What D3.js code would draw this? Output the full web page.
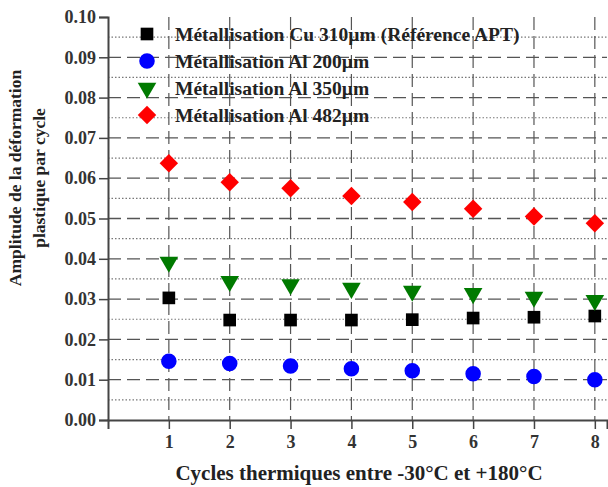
<!DOCTYPE html>
<html lang="fr">
<head>
<meta charset="utf-8">
<title>Amplitude de la déformation plastique par cycle</title>
<script src="https://cdn.jsdelivr.net/npm/d3@7"></script>
<style>
  body { margin: 0; background: #fff; }
  svg { font-family: "Liberation Serif", "DejaVu Serif", serif; }
</style>
</head>
<body>
<script>
// data
var cycles = [1, 2, 3, 4, 5, 6, 7, 8];
var cu310 = [0.0303, 0.0248, 0.0248, 0.0248, 0.0249, 0.0253, 0.0255, 0.0258];
var al200 = [0.0146, 0.0140, 0.0134, 0.0127, 0.0122, 0.0115, 0.0108, 0.0100];
var al350 = [0.0392, 0.0344, 0.0336, 0.0327, 0.0320, 0.0314, 0.0305, 0.0297];
var al482 = [0.0637, 0.0590, 0.0575, 0.0556, 0.0541, 0.0524, 0.0505, 0.0488];
var seriesNames = ["Métallisation Cu 310µm (Référence APT)", "Métallisation Al 200µm",
                   "Métallisation Al 350µm", "Métallisation Al 482µm"];
var yTicks = [0, 0.01, 0.02, 0.03, 0.04, 0.05, 0.06, 0.07, 0.08, 0.09, 0.10];

var series = [
  {name: seriesNames[0], values: cu310, color: "#000000", shape: "square"},
  {name: seriesNames[1], values: al200, color: "#0000ff", shape: "circle"},
  {name: seriesNames[2], values: al350, color: "#007a00", shape: "triangle"},
  {name: seriesNames[3], values: al482, color: "#ff0000", shape: "diamond"}
];

var w = 608, h = 487;
var mLeft = 108, mRight = 607, mTop = 17, mBottom = 420;

var svg = d3.select("body").append("svg")
    .attr("width", w).attr("height", h);

var x = d3.scaleLinear().domain([0, 8.2]).range([mLeft, mRight]);
var y = d3.scaleLinear().domain([0, 0.1]).range([mBottom, mTop]);

// grid: minor dotted at half steps, major dashed
var minor = d3.range(0.005, 0.1, 0.01);
svg.append("g").selectAll("line").data(minor).enter().append("line")
    .attr("x1", mLeft).attr("x2", mRight)
    .attr("y1", function(d) { return y(d); }).attr("y2", function(d) { return y(d); })
    .attr("stroke", "#777").attr("stroke-width", 1.2)
    .attr("stroke-dasharray", "1.5,2");

svg.append("g").selectAll("line").data(yTicks.slice(1, 10)).enter().append("line")
    .attr("x1", mLeft).attr("x2", mRight)
    .attr("y1", function(d) { return y(d); }).attr("y2", function(d) { return y(d); })
    .attr("stroke", "#555").attr("stroke-width", 1.3)
    .attr("stroke-dasharray", "13,6");

svg.append("g").selectAll("line").data(cycles).enter().append("line")
    .attr("x1", function(d) { return x(d); }).attr("x2", function(d) { return x(d); })
    .attr("y1", mTop).attr("y2", mBottom)
    .attr("stroke", "#555").attr("stroke-width", 1.2)
    .attr("stroke-dasharray", "13,6");

// axes
var yAxis = d3.axisLeft(y).tickValues(yTicks).tickFormat(d3.format(".2f")).tickSize(9).tickPadding(3);
var gy = svg.append("g").attr("transform", "translate(" + mLeft + ",0)").call(yAxis);
gy.select(".domain").attr("stroke", "#444").attr("stroke-width", 2);
gy.selectAll(".tick line").attr("stroke", "#444").attr("stroke-width", 1.5);
gy.selectAll("text").attr("font-size", 18).attr("font-weight", "bold")
    .attr("fill", "#333").attr("font-family", "Liberation Serif, serif");

var xAxis = d3.axisBottom(x).tickValues(cycles).tickFormat(d3.format("d")).tickSize(9).tickPadding(6);
var gx = svg.append("g").attr("transform", "translate(0," + mBottom + ")").call(xAxis);
gx.select(".domain").attr("stroke", "#444").attr("stroke-width", 2);
gx.selectAll(".tick line").attr("stroke", "#444").attr("stroke-width", 1.5);
gx.selectAll("text").attr("font-size", 18).attr("font-weight", "bold")
    .attr("fill", "#333").attr("font-family", "Liberation Serif, serif");

// marker shapes
var symbols = {
  square: d3.symbol().type(d3.symbolSquare).size(160),
  circle: d3.symbol().type(d3.symbolCircle).size(190),
  triangle: d3.symbol().type(d3.symbolTriangle).size(150),
  diamond: d3.symbol().type(d3.symbolSquare).size(170)
};
function place(s, px, py) {
  if (s.shape == "triangle") return "translate(" + px + "," + py + ") rotate(180)";
  if (s.shape == "diamond") return "translate(" + px + "," + py + ") rotate(45)";
  return "translate(" + px + "," + py + ")";
}

series.forEach(function(s) {
  svg.append("g").selectAll("path").data(s.values).enter().append("path")
      .attr("d", symbols[s.shape])
      .attr("transform", function(d, i) { return place(s, x(cycles[i]), y(d)); })
      .attr("fill", s.color);
});

// legend
var lg = svg.append("g").attr("transform", "translate(147,34)");
series.forEach(function(s, i) {
  var row = lg.append("g").attr("transform", "translate(0," + (i * 27) + ")");
  row.append("path").attr("d", symbols[s.shape])
      .attr("transform", place(s, 0, 0)).attr("fill", s.color);
  row.append("text").attr("x", 28).attr("y", 7)
      .attr("font-size", 19.5).attr("font-weight", "bold").attr("fill", "#222")
      .text(s.name);
});

// axis titles
svg.append("text").attr("x", 359).attr("y", 480)
    .attr("text-anchor", "middle").attr("font-size", 21).attr("font-weight", "bold")
    .attr("fill", "#222").text("Cycles thermiques entre -30°C et +180°C");

var yt = svg.append("text").attr("transform", "translate(21,178) rotate(-90)")
    .attr("text-anchor", "middle").attr("font-size", 17.5).attr("font-weight", "bold")
    .attr("fill", "#222");
yt.append("tspan").attr("x", 0).attr("dy", 0).text("Amplitude de la déformation");
yt.append("tspan").attr("x", 0).attr("dy", 24).text("plastique par cycle");
</script>
</body>
</html>
